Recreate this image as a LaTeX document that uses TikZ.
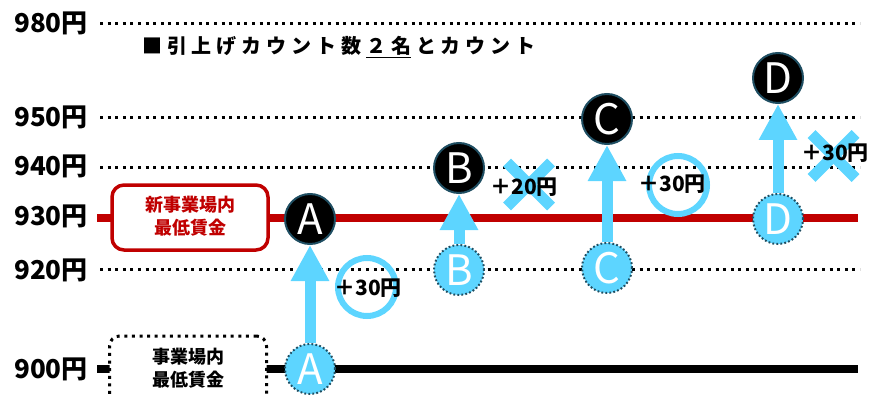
\documentclass[tikz,border=0pt]{standalone}
\usepackage{fontspec}
\newfontfamily\jp{Noto Sans CJK JP}
\usetikzlibrary{arrows.meta}
\definecolor{lb}{HTML}{5DD5FF}
\definecolor{tealb}{HTML}{1F4E62}
\definecolor{wred}{HTML}{C00000}
\newcommand\tsp{\kern4.9pt}
\begin{document}
\begin{tikzpicture}[x=1pt,y=-1pt,
  lvl/.style={font=\jp\bfseries\fontsize{26}{26}\selectfont, anchor=east, inner sep=0},
  dotline/.style={line width=3pt, dash pattern=on 3pt off 4.6pt},
  dark/.style={circle, fill=black, draw=tealb, line width=2pt, minimum size=50pt, inner sep=0,
    text=white, font=\jp\fontsize{42}{42}\selectfont},
  light/.style={circle, fill=lb, draw=tealb, line width=2pt, dash pattern=on 1.8pt off 2.2pt,
    minimum size=50pt, inner sep=0, text=white, font=\jp\fontsize{42}{42}\selectfont},
  upar/.style={draw=lb, line width=11pt, -{Triangle[width=36pt,length=36pt]}},
  ringmark/.style={circle, draw=lb, line width=6pt, minimum size=58pt, inner sep=0},
  crossmark/.style={draw=lb, line width=11pt},
  plus/.style={font=\jp\bfseries\fontsize{21}{21}\selectfont, inner sep=0},
  boxtxt/.style={font=\jp\bfseries\fontsize{18}{23}\selectfont, align=center, inner sep=0}
]
\clip (0,0) rectangle (869,398);
% level labels
\node[lvl] (t980) at (88,23) {980円};
\node[lvl] (t950) at (88,117) {950円};
\node[lvl] (t940) at (88,166) {940円};
\node[lvl] (t930) at (88,216) {930円};
\node[lvl] (t920) at (88,270) {920円};
\node[lvl] (t900) at (88,369) {900円};
% level lines
\draw[dotline] (100,24) -- (860,24);
\draw[dotline] (100,118) -- (860,118);
\draw[dotline] (100,168) -- (860,168);
\draw[dotline] (100,269) -- (860,269);
\draw[line width=8pt, wred] (97,218) -- (858,218);
\draw[line width=8pt, black] (97,369) -- (858,369);
% title
\node[anchor=west, inner sep=0, font=\jp\bfseries\fontsize{20}{20}\selectfont] (title) at (142,47)
  {■\tsp 引\tsp 上\tsp げ\tsp カ\tsp ウ\tsp ン\tsp ト\tsp 数\tsp\underline{２\tsp 名}\tsp と\tsp カ\tsp ウ\tsp ン\tsp ト};
% boxes
\node[draw=wred, line width=3.5pt, rounded corners=12pt, fill=white, minimum width=156pt,
  minimum height=65pt] (newbox) at (190,217.5) {};
\node[boxtxt, text=wred] (newtxt) at (190,216.5) {新事業場内\\最低賃金};
\node[draw=black, dotline, rounded corners=10pt, fill=white, minimum width=157pt,
  minimum height=100pt] (oldbox) at (188,386) {};
\node[boxtxt] (oldtxt) at (188,368.5) {事業場内\\最低賃金};
% marks
\node[ringmark] (ringA) at (367,287) {};
\node[ringmark] (ringC) at (678,185) {};
\draw[crossmark] (507,162.5) -- (551,206.5);
\draw[crossmark] (507,206.5) -- (551,162.5);
\draw[crossmark] (811.5,134) -- (855.5,178);
\draw[crossmark] (811.5,178) -- (855.5,134);
\node[plus] (pA) at (368,288) {＋30円};
\node[plus] (pB) at (524,187) {＋20円};
\node[plus] (pC) at (672,184) {＋30円};
\node[plus] (pD) at (835,153) {＋30円};
% circles
\node[dark] (Ad) at (310,219) {A};
\node[light] (Al) at (310,369) {A};
\node[dark] (Bd) at (459,168) {B};
\node[light] (Bl) at (459,270) {B};
\node[dark] (Cd) at (607,119) {C};
\node[light] (Cl) at (607,268) {C};
\node[dark] (Dd) at (778,78) {D};
\node[light] (Dl) at (778,219) {D};
% arrows
\draw[upar] (Al.north) -- (Ad.south);
\draw[upar] (Bl.north) -- (Bd.south);
\draw[upar] (Cl.north) -- (Cd.south);
\draw[upar] (Dl.north) -- (Dd.south);
\end{tikzpicture}
\end{document}
